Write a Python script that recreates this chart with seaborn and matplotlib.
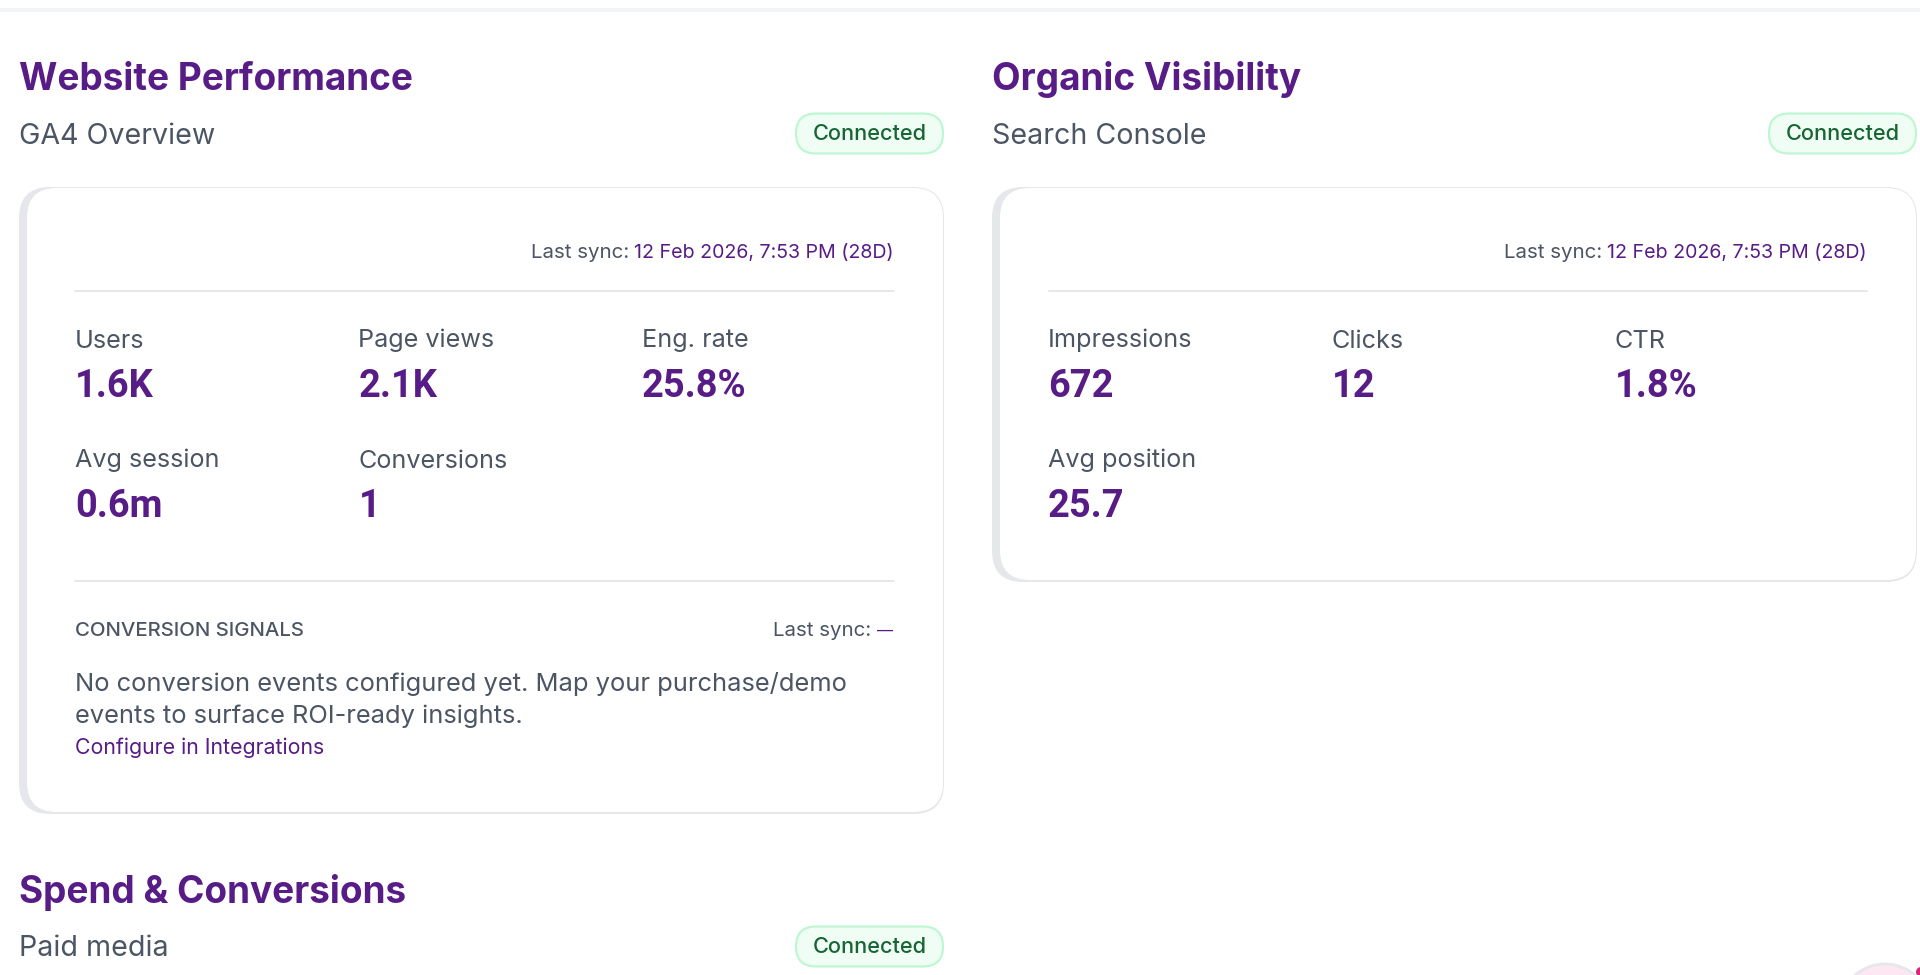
import matplotlib.pyplot as plt
from matplotlib.patches import FancyBboxPatch, Circle
import seaborn as sns

# card contents
ga4_labels = ["Users", "Page views", "Eng. rate", "Avg session", "Conversions"]
ga4_values = ["1.6K", "2.1K", "25.8%", "0.6m", "1"]
gsc_labels = ["Impressions", "Clicks", "CTR", "Avg position"]
gsc_values = ["672", "12", "1.8%", "25.7"]
sync_text = "12 Feb 2026, 7:53 PM (28D)"
note_lines = ["No conversion events configured yet. Map your purchase/demo",
              "events to surface ROI-ready insights."]

PURPLE = "#581c87"
GRAY = "#4b5563"
LINE = "#e5e7eb"
BODY = "Inter"

sns.set_theme(style="white")
plt.rcParams['font.family'] = [BODY, 'DejaVu Sans']

fig = plt.figure(figsize=(19.2, 9.75), dpi=100)
ax = fig.add_axes([0, 0, 1, 1])
ax.set_xlim(0, 1920)
ax.set_ylim(975, 0)
ax.axis("off")
sns.despine(ax=ax, left=True, bottom=True)


def px(size):
    return size * 72 / 100


def label(x, y, s, size, color=GRAY, weight="normal", ha="left", family=BODY):
    ax.text(x, y, s, fontsize=px(size), color=color, fontweight=weight, ha=ha,
            va="baseline", family=family)


def rbox(x0, y0, x1, y1, r, fc, ec="none", lw=0, z=1):
    ax.add_patch(FancyBboxPatch((x0, y0), x1 - x0, y1 - y0,
                                boxstyle=f"round,pad=0,rounding_size={r}",
                                fc=fc, ec=ec, lw=lw, zorder=z))


def header(x, right, title, sub, ty, sy, py):
    label(x, ty + 1, title, 37, PURPLE, "bold")
    label(x, sy + 0.5, sub, 28.6)
    rbox(right - 147, py + 0.5, right, py + 40.5, 20, "#f0fdf4", "#bbf7d0", 1.5, 3)
    label(right - 73.5, py + 27, "Connected", 21.7, "#166534", "medium", "center")


def card(x0, x1, y1):
    rbox(x0, 187, x1 + 1, y1 + 1, 31, LINE, z=1)
    rbox(x0 + 8, 188, x1, y1 - 1, 30, "white", z=2)


def kpis(x0, labels, values):
    cols = [x0, x0 + 283.5, x0 + 567]
    for i, (name, val) in enumerate(zip(labels, values)):
        row = i // 3
        x = cols[i % 3]
        label(x, 347.5 + row * 120, name, 25.2)
        label(x, 397 + row * 120, val, 38, PURPLE, "bold", family="Roboto")


def sync_row(x0, right):
    label(right - 362, 258, "Last sync:", 20.5)
    label(right - 259, 258, sync_text, 19.6, PURPLE)
    ax.plot([x0, right + 1], [291, 291], color=LINE, lw=1.4, zorder=3)


# page top edge
ax.plot([0, 1920], [10, 10], color="#f3f4f6", lw=3)

# left column
header(19, 943, "Website Performance", "GA4 Overview", 89, 143, 113)
card(19, 943, 813)
sync_row(75, 893)
kpis(75, ga4_labels, ga4_values)
ax.plot([75, 894], [581, 581], color=LINE, lw=1.4, zorder=3)
label(75, 636, "CONVERSION SIGNALS", 20.4, GRAY, "medium")
label(773, 636, "Last sync:", 20.5)
label(877, 636, "\u2014", 16, PURPLE)
label(75, 691, note_lines[0], 25.5)
label(75, 723, note_lines[1], 25.5)
label(75, 754, "Configure in Integrations", 21.3, PURPLE)

# right column
header(992, 1916, "Organic Visibility", "Search Console", 89, 143, 113)
card(992, 1916, 581)
sync_row(1049, 1866)
kpis(1048, gsc_labels, gsc_values)

# next section, cut by the bottom of the page
header(19, 943, "Spend & Conversions", "Paid media", 902, 955, 926)

# chat bubble in the corner
ax.add_patch(Circle((1885, 1010), 46, fc="#fce7f3", ec=LINE, lw=2, zorder=4))
ax.add_patch(Circle((1921, 972), 5, fc="#db2777", ec="none", zorder=5))

fig.savefig("out.png", dpi=100)
